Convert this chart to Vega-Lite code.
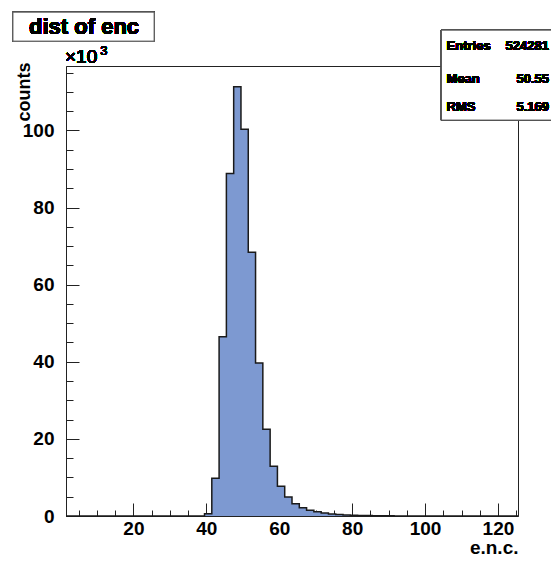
{
  "$schema": "https://vega.github.io/schema/vega-lite/v6.json",
  "width": 452,
  "height": 450,
  "autosize": "none",
  "padding": {"left": 66, "top": 66, "right": 33, "bottom": 45},
  "background": "white",
  "config": {
    "view": {"stroke": "#222222", "strokeWidth": 1},
    "font": "Liberation Sans",
    "axis": {"grid": false, "zindex": 1, "domainColor": "#222222", "tickColor": "#222222", "labelColor": "black", "titleColor": "black", "titleFontWeight": "bold", "titleFontSize": 19, "titleFont": "Liberation Sans"}
  },
  "data": {"values": [
    {"lo": 1.5, "counts": 0}, {"lo": 3.5, "counts": 0}, {"lo": 5.5, "counts": 0}, {"lo": 7.5, "counts": 0},
    {"lo": 9.5, "counts": 0}, {"lo": 11.5, "counts": 0}, {"lo": 13.5, "counts": 0}, {"lo": 15.5, "counts": 0},
    {"lo": 17.5, "counts": 0}, {"lo": 19.5, "counts": 0}, {"lo": 21.5, "counts": 0}, {"lo": 23.5, "counts": 0},
    {"lo": 25.5, "counts": 0}, {"lo": 27.5, "counts": 0}, {"lo": 29.5, "counts": 0}, {"lo": 31.5, "counts": 0},
    {"lo": 33.5, "counts": 0}, {"lo": 35.5, "counts": 0}, {"lo": 37.5, "counts": 30}, {"lo": 39.5, "counts": 600},
    {"lo": 41.5, "counts": 9800}, {"lo": 43.5, "counts": 46500}, {"lo": 45.5, "counts": 88800}, {"lo": 47.5, "counts": 111300},
    {"lo": 49.5, "counts": 100300}, {"lo": 51.5, "counts": 68400}, {"lo": 53.5, "counts": 39700}, {"lo": 55.5, "counts": 22500},
    {"lo": 57.5, "counts": 12900}, {"lo": 59.5, "counts": 7700}, {"lo": 61.5, "counts": 4900}, {"lo": 63.5, "counts": 3200},
    {"lo": 65.5, "counts": 2150}, {"lo": 67.5, "counts": 1500}, {"lo": 69.5, "counts": 1100}, {"lo": 71.5, "counts": 780},
    {"lo": 73.5, "counts": 550}, {"lo": 75.5, "counts": 390}, {"lo": 77.5, "counts": 280}, {"lo": 79.5, "counts": 200},
    {"lo": 81.5, "counts": 140}, {"lo": 83.5, "counts": 100}, {"lo": 85.5, "counts": 70}, {"lo": 87.5, "counts": 50},
    {"lo": 89.5, "counts": 35}, {"lo": 91.5, "counts": 25}, {"lo": 93.5, "counts": 18}, {"lo": 95.5, "counts": 12},
    {"lo": 97.5, "counts": 8}, {"lo": 99.5, "counts": 5}, {"lo": 101.5, "counts": 0}, {"lo": 103.5, "counts": 0},
    {"lo": 105.5, "counts": 0}, {"lo": 107.5, "counts": 0}, {"lo": 109.5, "counts": 0}, {"lo": 111.5, "counts": 0},
    {"lo": 113.5, "counts": 0}, {"lo": 115.5, "counts": 0}, {"lo": 117.5, "counts": 0}, {"lo": 119.5, "counts": 0},
    {"lo": 121.5, "counts": 0}, {"lo": 123.5, "counts": 0}, {"lo": 125.5, "counts": 0}
  ]},
  "resolve": {"axis": {"x": "independent", "y": "independent"}},
  "layer": [
    {
      "mark": {"type": "area", "interpolate": "step-after", "color": "#7d99d1"},
      "encoding": {
        "x": {"field": "lo", "type": "quantitative",
          "scale": {"domain": [1.5, 125.5], "nice": false, "zero": false},
          "axis": {"orient": "bottom", "values": [20, 40, 60, 80, 100, 120], "tickSize": -13, "labelPadding": 16,
            "labelFontSize": 19, "labelFontWeight": "bold", "labelFlush": false,
            "title": "e.n.c.", "titleFontSize": 19, "titleFontWeight": "bold",
            "titleX": 452, "titleY": 37, "titleAlign": "right", "titleBaseline": "alphabetic"}},
        "y": {"field": "counts", "type": "quantitative",
          "scale": {"domain": [0, 116700], "nice": false},
          "axis": {"orient": "left", "values": [0, 20000, 40000, 60000, 80000, 100000], "tickSize": -13, "labelPadding": 25,
            "labelExpr": "datum.value / 1000", "labelFontSize": 19, "labelFontWeight": "bold",
            "title": "counts", "titleFontSize": 18, "titleFontWeight": "bold", "titleAngle": -90,
            "titleX": -37, "titleY": -4, "titleAlign": "right", "titleBaseline": "alphabetic"}}
      }
    },
    {
      "mark": {"type": "line", "interpolate": "step-after", "color": "#1a1a1a", "strokeWidth": 1.5},
      "encoding": {
        "x": {"field": "lo", "type": "quantitative",
          "axis": {"orient": "bottom", "values": [5, 10, 15, 25, 30, 35, 45, 50, 55, 65, 70, 75, 85, 90, 95, 105, 110, 115, 125],
            "tickSize": -6, "labels": false, "domain": false, "title": null}},
        "y": {"field": "counts", "type": "quantitative",
          "axis": {"orient": "left", "values": [5000, 10000, 15000, 25000, 30000, 35000, 45000, 50000, 55000, 65000, 70000, 75000, 85000, 90000, 95000, 105000, 110000, 115000],
            "tickSize": -7, "labels": false, "domain": false, "title": null}}
      }
    },
    {
      "mark": {"type": "rect", "fill": "white", "stroke": "#555555", "strokeWidth": 1},
      "encoding": {
        "x": {"datum": -13.06, "type": "quantitative", "axis": null},
        "x2": {"datum": 25.68},
        "y": {"datum": 130670, "type": "quantitative", "axis": null},
        "y2": {"datum": 123150}
      }
    },
    {
      "mark": {"type": "text", "text": "dist of enc", "fontSize": 22, "fontWeight": "bold", "align": "center", "baseline": "alphabetic", "color": "black"},
      "encoding": {
        "x": {"datum": 6.45, "type": "quantitative", "axis": null},
        "y": {"datum": 124890, "type": "quantitative", "axis": null}
      }
    },
    {
      "mark": {"type": "text", "text": "×10", "fontSize": 19, "align": "left", "baseline": "alphabetic", "color": "black"},
      "encoding": {
        "x": {"datum": 1.22, "type": "quantitative", "axis": null},
        "y": {"datum": 117450, "type": "quantitative", "axis": null}
      }
    },
    {
      "mark": {"type": "text", "text": "3", "fontSize": 13, "align": "left", "baseline": "alphabetic", "color": "black"},
      "encoding": {
        "x": {"datum": 10.9, "type": "quantitative", "axis": null},
        "y": {"datum": 119600, "type": "quantitative", "axis": null}
      }
    },
    {
      "mark": {"type": "rect", "fill": "white", "stroke": "#555555", "strokeWidth": 1},
      "encoding": {
        "x": {"datum": 104.5, "type": "quantitative", "axis": null},
        "x2": {"datum": 135.3},
        "y": {"datum": 126000, "type": "quantitative", "axis": null},
        "y2": {"datum": 102670}
      }
    },
    {
      "mark": {"type": "text", "text": "Entries", "fontSize": 13, "fontWeight": "bold", "align": "left", "baseline": "alphabetic", "color": "black"},
      "encoding": {
        "x": {"datum": 105.9, "type": "quantitative", "axis": null},
        "y": {"datum": 120820, "type": "quantitative", "axis": null}
      }
    },
    {
      "mark": {"type": "text", "text": "524281", "fontSize": 13, "fontWeight": "bold", "align": "right", "baseline": "alphabetic", "color": "black"},
      "encoding": {
        "x": {"datum": 134.0, "type": "quantitative", "axis": null},
        "y": {"datum": 120820, "type": "quantitative", "axis": null}
      }
    },
    {
      "mark": {"type": "text", "text": "Mean", "fontSize": 13, "fontWeight": "bold", "align": "left", "baseline": "alphabetic", "color": "black"},
      "encoding": {
        "x": {"datum": 105.9, "type": "quantitative", "axis": null},
        "y": {"datum": 112260, "type": "quantitative", "axis": null}
      }
    },
    {
      "mark": {"type": "text", "text": "50.55", "fontSize": 13, "fontWeight": "bold", "align": "right", "baseline": "alphabetic", "color": "black"},
      "encoding": {
        "x": {"datum": 134.0, "type": "quantitative", "axis": null},
        "y": {"datum": 112260, "type": "quantitative", "axis": null}
      }
    },
    {
      "mark": {"type": "text", "text": "RMS", "fontSize": 13, "fontWeight": "bold", "align": "left", "baseline": "alphabetic", "color": "black"},
      "encoding": {
        "x": {"datum": 105.9, "type": "quantitative", "axis": null},
        "y": {"datum": 105080, "type": "quantitative", "axis": null}
      }
    },
    {
      "mark": {"type": "text", "text": "5.169", "fontSize": 13, "fontWeight": "bold", "align": "right", "baseline": "alphabetic", "color": "black"},
      "encoding": {
        "x": {"datum": 134.0, "type": "quantitative", "axis": null},
        "y": {"datum": 105080, "type": "quantitative", "axis": null}
      }
    }
  ]
}
